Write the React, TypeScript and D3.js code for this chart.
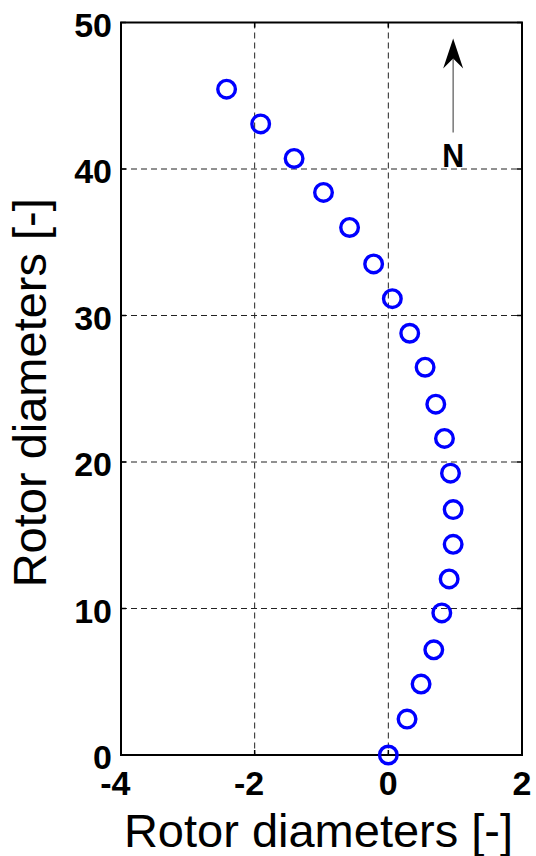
import React from "react";
import * as d3 from "d3";

const xs = [0, 0.28, 0.49, 0.68, 0.80, 0.91, 0.97, 0.97, 0.93, 0.84, 0.71, 0.55, 0.32, 0.06, -0.22, -0.58, -0.97, -1.41, -1.91, -2.42];
const ys = [0, 2.45, 4.84, 7.18, 9.70, 12.02, 14.38, 16.75, 19.24, 21.61, 23.95, 26.47, 28.79, 31.15, 33.52, 36.01, 38.40, 40.72, 43.08, 45.45];
const xTicks = [-4, -2, 0, 2];
const yTicks = [0, 10, 20, 30, 40, 50];
const xLabel = "Rotor diameters [-]";
const yLabel = "Rotor diameters [-]";
const northX = 0.97;
const northTip = 48.9;
const northTail = 42.5;
const northText = 40.2;

export default function App() {
  const L = 121, R = 522, T = 22.5, B = 755;
  const x = d3.scaleLinear().domain([-4, 2]).range([L, R]);
  const y = d3.scaleLinear().domain([0, 50]).range([B, T]);
  const font = "'Liberation Sans', Arial, Helvetica, sans-serif";
  const ax = x(northX);
  const tipY = y(northTip);
  const notchY = tipY + 20;
  const wingY = tipY + 30;
  const sx = (cx: number, s: number) => `translate(${cx},0) scale(${s},1) translate(${-cx},0)`;
  return (
    <svg width={536} height={856} style={{ position: "absolute", left: 0, top: 0, background: "#fff" }}>
      <rect x={0} y={0} width={536} height={856} fill="#fff" />
      {/* grid */}
      {xTicks.filter(t => t > -4 && t < 2).map(t => (
        <line key={"gx" + t} x1={x(t)} x2={x(t)} y1={T} y2={B} stroke="#222" strokeWidth={1} strokeDasharray="6,4" />
      ))}
      {yTicks.filter(t => t > 0 && t < 50).map(t => (
        <line key={"gy" + t} x1={L} x2={R} y1={y(t)} y2={y(t)} stroke="#222" strokeWidth={1} strokeDasharray="6,4" />
      ))}
      {/* ticks */}
      {xTicks.map(t => (
        <g key={"tx" + t}>
          <line x1={x(t)} x2={x(t)} y1={B} y2={B - 5} stroke="#000" strokeWidth={1.5} />
          <line x1={x(t)} x2={x(t)} y1={T} y2={T + 5} stroke="#000" strokeWidth={1.5} />
        </g>
      ))}
      {yTicks.map(t => (
        <g key={"ty" + t}>
          <line x1={L} x2={L + 5} y1={y(t)} y2={y(t)} stroke="#000" strokeWidth={1.5} />
          <line x1={R} x2={R - 5} y1={y(t)} y2={y(t)} stroke="#000" strokeWidth={1.5} />
        </g>
      ))}
      <rect x={L} y={T} width={R - L} height={B - T} fill="none" stroke="#000" strokeWidth={2} />
      {/* tick labels */}
      {xTicks.map(t => {
        const px = t < 0 ? x(t) + 9.5 : x(t);
        return (
          <text key={"lx" + t} x={px} y={795} textAnchor={t < 0 ? "end" : "middle"}
            fontFamily={font} fontWeight="bold" fontSize={33} transform={sx(px, 1.03)}>{t}</text>
        );
      })}
      {yTicks.map(t => (
        <text key={"ly" + t} x={112} y={y(t) + 14.5} textAnchor="end"
          fontFamily={font} fontWeight="bold" fontSize={33} transform={sx(112, 1.03)}>{t}</text>
      ))}
      {/* axis labels */}
      <text x={(L + R) / 2 - 3} y={847} textAnchor="middle" fontFamily={font} fontSize={47}>{xLabel}</text>
      <text transform={`translate(46,${(T + B) / 2 + 4}) rotate(-90)`} textAnchor="middle" fontFamily={font} fontSize={47}>{yLabel}</text>
      {/* points */}
      {xs.map((v, i) => (
        <circle key={i} cx={x(v)} cy={y(ys[i])} r={8.8} fill="none" stroke="#0000ff" strokeWidth={3.4} />
      ))}
      {/* north arrow */}
      <line x1={ax} x2={ax} y1={y(northTail)} y2={notchY} stroke="#777" strokeWidth={1.5} />
      <path d={`M${ax},${tipY} L${ax + 10},${wingY} L${ax},${notchY} L${ax - 10},${wingY} Z`} fill="#000" />
      <text x={ax} y={y(northText) + 0.5} textAnchor="middle" fontFamily={font} fontWeight="bold" fontSize={33}
        transform={sx(ax, 0.92)}>N</text>
    </svg>
  );
}
